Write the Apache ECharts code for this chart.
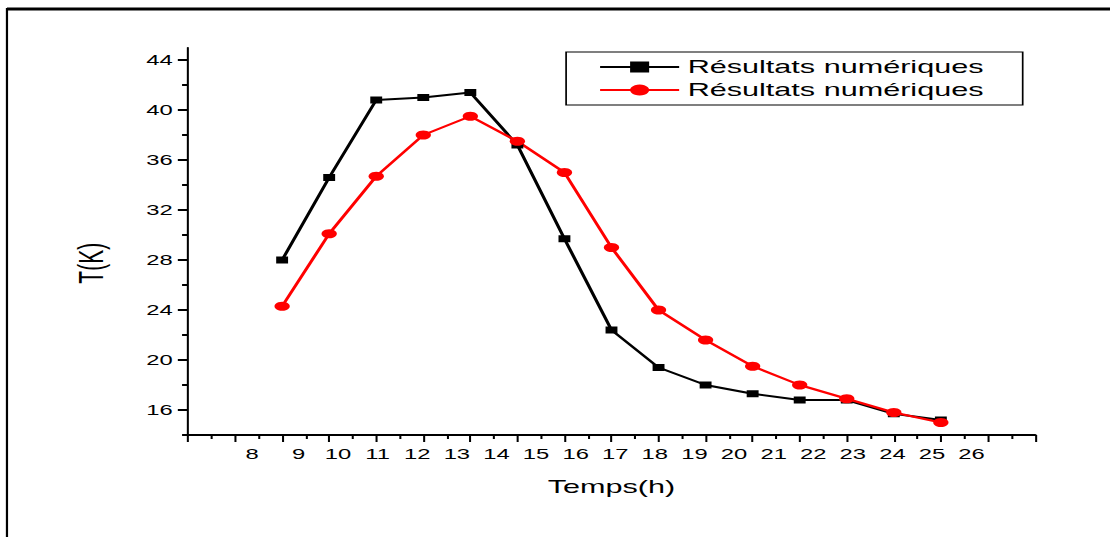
<!DOCTYPE html>
<html>
<head>
<meta charset="utf-8">
<script src="https://cdn.jsdelivr.net/npm/echarts@6/dist/echarts.min.js"></script>
<style>
html, body { margin: 0; padding: 0; background: #fff; overflow: hidden; }
#wrap { width: 1110px; height: 537px; overflow: hidden; }
/* the source figure is stretched sideways, so the chart is drawn narrow and widened */
#chart { width: 653px; height: 537px; transform: scaleX(1.7); transform-origin: 0 0; }
</style>
</head>
<body>
<div id="wrap"><div id="chart"></div></div>
<script>
// données
const hours = [9, 10, 11, 12, 13, 14, 15, 16, 17, 18, 19, 20, 21, 22, 23]
const blackT = [28.0, 34.6, 40.8, 41.0, 41.4, 37.2, 29.7, 22.4, 19.4, 18.0, 17.3, 16.8, 16.8, 15.7, 15.2]
const redT = [24.3, 30.1, 34.7, 38.0, 39.5, 37.5, 35.0, 29.0, 24.0, 21.6, 19.5, 18.0, 16.9, 15.8, 15.0]
const legendLabel = "Résultats numériques"
const xTickLabels = [8, 9, 10, 11, 12, 13, 14, 15, 16, 17, 18, 19, 20, 21, 22, 23, 24, 25, 26]
const yTickLabels = [16, 20, 24, 28, 32, 36, 40, 44]
const yMinorTicks = [14, 16, 18, 20, 22, 24, 26, 28, 30, 32, 34, 36, 38, 40, 42, 44]

const font = "Liberation Sans"

const chart = echarts.init(document.getElementById("chart"), null, { renderer: "svg" })

const option = {
    animation: false,
    backgroundColor: "#fff",
    textStyle: { fontFamily: font, color: "#000" },
    graphic: [
        { type: "line", shape: { x1: 4.1, y1: 9, x2: 653, y2: 9 }, style: { stroke: "#000", lineWidth: 3 } },
        { type: "line", shape: { x1: 4.1, y1: 8, x2: 4.1, y2: 537 }, style: { stroke: "#000", lineWidth: 1.3 } },
    ],
    legend: {
        orient: "vertical",
        left: 333,
        top: 52,
        padding: [6, 23, 6, 19],
        itemGap: 5,
        itemWidth: 46.5,
        itemHeight: 14,
        borderColor: "#000",
        borderWidth: 1,
        backgroundColor: "#fff",
        formatter: () => legendLabel,
        textStyle: { fontFamily: font, fontSize: 18, color: "#000" },
        data: ["num1", "num2"],
    },
    grid: {
        left: 110.6,
        right: 44.2,
        top: 47.5,
        bottom: 102,
        containLabel: false,
        outerBoundsMode: "none",
    },
    xAxis: [
        {
            type: "value",
            position: "bottom",
            min: 7,
            max: 25,
            interval: 1,
            name: "Temps(h)",
            nameLocation: "middle",
            nameGap: 43,
            nameMoveOverlap: false,
            nameTextStyle: { fontFamily: font, fontSize: 18, color: "#000" },
            axisLine: { onZero: false, lineStyle: { color: "#000", width: 2 } },
            axisTick: { length: 7, lineStyle: { color: "#000", width: 1.2 } },
            minorTick: { show: true, splitNumber: 2, length: 4, lineStyle: { color: "#000", width: 1.2 } },
            axisLabel: { show: false },
            splitLine: { show: false },
            minorSplitLine: { show: false },
        },
        {
            type: "value",
            position: "bottom",
            min: 6.21,
            max: 27.6,
            axisLine: { show: false, onZero: false },
            axisTick: { show: false },
            splitLine: { show: false },
            axisLabel: {
                customValues: xTickLabels,
                margin: 12,
                fontFamily: font,
                fontSize: 14,
                color: "#000",
                formatter: (v) => (v === 8 ? "{s|8}" : String(v)),
                rich: { s: { fontFamily: font, fontSize: 14, color: "#000", padding: [0, 8, 0, 0] } },
            },
        },
    ],
    yAxis: [
        {
            type: "value",
            position: "left",
            min: 14,
            max: 45,
            name: "T(K)",
            nameLocation: "middle",
            nameGap: 47,
            nameMoveOverlap: false,
            nameTextStyle: { fontFamily: font, fontSize: 21, color: "#000", padding: [0, 44, 0, 0] },
            axisLine: { show: true, onZero: false, lineStyle: { color: "#000", width: 1.2 } },
            axisTick: { show: true, customValues: yMinorTicks, length: 3.5, lineStyle: { color: "#000", width: 2 } },
            axisLabel: { show: false },
            splitLine: { show: false },
        },
        {
            type: "value",
            position: "left",
            min: 14,
            max: 45,
            axisLine: { show: false, onZero: false },
            axisTick: { show: true, customValues: yTickLabels, length: 6, lineStyle: { color: "#000", width: 2 } },
            axisLabel: { customValues: yTickLabels, margin: 9, fontFamily: font, fontSize: 14, color: "#000" },
            splitLine: { show: false },
        },
    ],
    series: [
        {
            name: "num1",
            type: "line",
            data: hours.map((h, i) => [h, blackT[i]]),
            symbol: "rect",
            symbolSize: 7,
            itemStyle: { color: "#000" },
            lineStyle: { color: "#000", width: 2 },
        },
        {
            name: "num2",
            type: "line",
            data: hours.map((h, i) => [h, redT[i]]),
            symbol: "circle",
            symbolSize: 9,
            itemStyle: { color: "#ff0000" },
            lineStyle: { color: "#ff0000", width: 2 },
        },
    ],
}

chart.setOption(option)
</script>
</body>
</html>
